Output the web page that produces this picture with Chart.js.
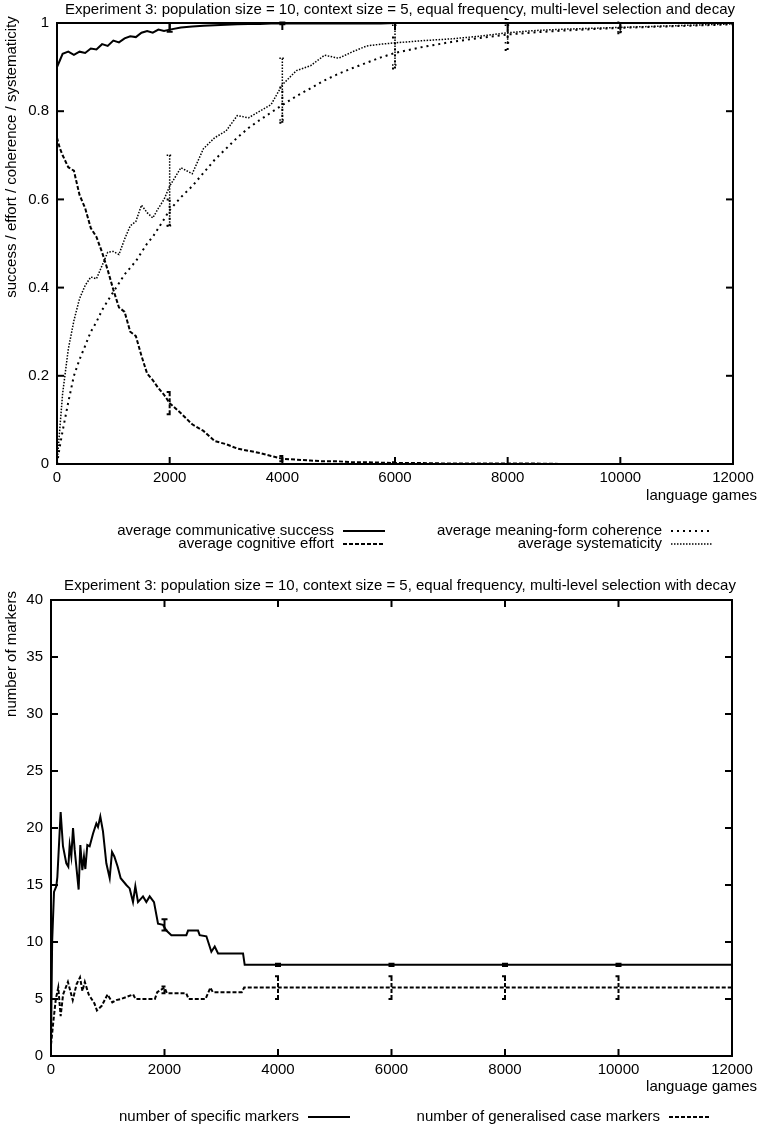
<!DOCTYPE html>
<html>
<head>
<meta charset="utf-8">
<script src="https://cdn.jsdelivr.net/npm/chart.js@4/dist/chart.umd.min.js"></script>
<style>
  body { margin: 0; background: #fff; }
  #wrap { position: relative; width: 760px; height: 1131px; }
  canvas { position: absolute; left: 0; }
</style>
</head>
<body>
<div id="wrap">
  <canvas id="chartTop" width="760" height="565" style="top:0"></canvas>
  <canvas id="chartBottom" width="760" height="566" style="top:565px"></canvas>
</div>
<script>
// ---- top chart: success / effort / coherence / systematicity ----
const topGames = [0, 50, 100, 200, 300, 400, 500, 600, 700, 800, 900, 1000, 1100, 1200, 1300, 1400, 1500, 1600, 1700, 1800, 1900, 2000,
  2200, 2400, 2600, 2800, 3000, 3200, 3400, 3600, 3800, 4000, 4250, 4500, 4750, 5000, 5250, 5500, 5750, 6000,
  6500, 7000, 7500, 8000, 8500, 9000, 9500, 10000, 10500, 11000, 11500, 12000];
const success = [0.90, 0.915, 0.93, 0.935, 0.928, 0.935, 0.932, 0.942, 0.94, 0.952, 0.948, 0.96, 0.956, 0.965, 0.97, 0.968, 0.978, 0.982, 0.978, 0.985, 0.982, 0.985,
  0.99, 0.992, 0.994, 0.995, 0.996, 0.997, 0.998, 0.998, 0.999, 0.999, 0.999, 0.999, 0.999, 0.999, 0.999, 0.999, 0.999, 1,
  1, 1, 1, 1, 1, 1, 1, 1, 1, 1, 1, 1];
const effort = [0.74, 0.716, 0.70, 0.673, 0.665, 0.61, 0.58, 0.535, 0.515, 0.48, 0.44, 0.395, 0.355, 0.345, 0.30, 0.29, 0.245, 0.205, 0.19, 0.172, 0.157, 0.138,
  0.115, 0.09, 0.075, 0.052, 0.045, 0.035, 0.03, 0.025, 0.018, 0.012, 0.01, 0.008, 0.006, 0.006, 0.004, 0.004, 0.003, 0.002,
  0.002, 0.001, 0.001, 0.001, 0.001, 0, 0, 0, 0, 0, 0, 0];
const coherence = [0, 0.04, 0.075, 0.14, 0.2, 0.237, 0.268, 0.30, 0.322, 0.349, 0.37, 0.39, 0.41, 0.43, 0.445, 0.46, 0.48, 0.50, 0.515, 0.535, 0.555, 0.576,
  0.605, 0.63, 0.66, 0.69, 0.715, 0.74, 0.762, 0.78, 0.797, 0.814, 0.834, 0.852, 0.87, 0.885, 0.898, 0.91, 0.922, 0.932,
  0.946, 0.957, 0.966, 0.974, 0.979, 0.983, 0.986, 0.989, 0.991, 0.993, 0.995, 0.997];
const systematicity = [0, 0.08, 0.16, 0.26, 0.325, 0.375, 0.405, 0.424, 0.42, 0.45, 0.48, 0.482, 0.475, 0.51, 0.54, 0.55, 0.587, 0.57, 0.558, 0.58, 0.60, 0.63,
  0.672, 0.658, 0.715, 0.74, 0.755, 0.79, 0.785, 0.80, 0.815, 0.86, 0.892, 0.903, 0.927, 0.92, 0.935, 0.948, 0.952, 0.955,
  0.96, 0.964, 0.97, 0.978, 0.983, 0.986, 0.988, 0.99, 0.992, 0.994, 0.996, 0.998];

// error bars (centre and half-length) at these games
const errGames = [2000, 4000, 6000, 8000, 10000];
const successMid = [0.99, 0.999, 1, 1, 1];
const successErr = [0.01, 0.002, 0, 0, 0];
const effortMid = [0.138, 0.012, 0.002, 0, 0];
const effortErr = [0.025, 0.006, 0.002, 0, 0];
const coherenceMid = [0.57, 0.814, 0.932, 0.974, 0.989];
const coherenceErr = [0.03, 0.04, 0.035, 0.035, 0.012];
const systematicityMid = [0.62, 0.85, 0.95, 0.975, 0.99];
const systematicityErr = [0.08, 0.07, 0.045, 0.02, 0.01];

// ---- bottom chart: number of markers ----
const specGames = [0, 20, 53, 94, 112, 170, 211, 270, 305, 329, 358, 388, 417, 487, 517, 552, 581, 605, 640, 681, 740, 799, 828, 869, 916, 975,
  1034, 1075, 1116, 1175, 1228, 1327, 1386, 1445, 1486, 1533, 1621, 1680, 1739, 1815, 1886, 1974, 2033, 2121, 2385, 2415,
  2591, 2620, 2738, 2826, 2885, 2944, 3384, 3413, 12000];
const specMarkers = [1, 10, 14.4, 14.9, 15.7, 21.4, 18.4, 16.9, 16.6, 18.5, 17.5, 20.0, 18.1, 14.6, 18.5, 16.3, 17.5, 16.4, 18.5, 18.4, 19.5, 20.4, 20.1, 21.0, 19.7, 16.9,
  15.6, 17.9, 17.5, 16.6, 15.6, 15.0, 14.7, 13.5, 14.9, 13.5, 14.0, 13.5, 14.0, 13.5, 11.6, 11.5, 11.0, 10.6, 10.6, 11.0,
  11.0, 10.6, 10.5, 9.15, 9.6, 9.0, 9.0, 8.0, 8.0];
const genGames = [0, 43, 85, 128, 170, 213, 298, 383, 451, 511, 553, 596, 664, 766, 809, 894, 996, 1081, 1149, 1234, 1447, 1489,
  1830, 1872, 2000, 2043, 2383, 2426, 2723, 2809, 2851, 3362, 3404, 12000];
const genMarkers = [1.0, 3.1, 5.0, 6.0, 3.5, 5.4, 6.5, 4.9, 6.3, 6.9, 5.7, 6.5, 5.4, 4.6, 4.0, 4.4, 5.4, 4.7, 4.9, 5.0, 5.4, 5.0,
  5.0, 5.6, 6.0, 5.5, 5.5, 5.0, 5.0, 6.0, 5.6, 5.6, 6.0, 6.0];
const specMid = [11.5, 8, 8, 8, 8];
const specErr = [0.5, 0.1, 0.1, 0.1, 0.1];
const genMid = [5.8, 6, 6, 6, 6];
const genErr = [0.3, 1, 1, 1, 1];

const FONT = '"Liberation Sans", Arial, Helvetica, sans-serif';
Chart.defaults.font.family = FONT;
Chart.defaults.font.size = 15;
Chart.defaults.color = '#000';

function pts(xs, ys) {
  return xs.map((g, i) => ({ x: g, y: ys[i] }));
}

function line(ctx, x1, y1, x2, y2) {
  ctx.beginPath(); ctx.moveTo(x1, y1); ctx.lineTo(x2, y2); ctx.stroke();
}

// gnuplot-like frame: border, inside ticks, error bars, titles, key
const gnuframe = {
  id: 'gnuframe',
  afterDatasetsDraw(chart, args, o) {
    const { ctx, chartArea: a, scales: { x, y } } = chart;
    ctx.save();
    ctx.strokeStyle = '#000';
    ctx.lineCap = 'butt';

    // error bars
    chart.data.datasets.forEach(ds => {
      if (!ds.errMid) return;
      ctx.lineWidth = ds.borderWidth;
      ctx.setLineDash(ds.borderDash || []);
      ds.errMid.forEach((m, k) => {
        const e = ds.err[k];
        if (!e) return;
        const px = x.getPixelForValue(errGames[k]);
        const lo = y.getPixelForValue(m - e), hi = y.getPixelForValue(m + e);
        ctx.beginPath();
        ctx.moveTo(px, lo); ctx.lineTo(px, hi);
        ctx.moveTo(px - 3, lo); ctx.lineTo(px + 3, lo);
        ctx.moveTo(px - 3, hi); ctx.lineTo(px + 3, hi);
        ctx.stroke();
      });
    });

    // border + mirrored ticks
    ctx.setLineDash([]);
    ctx.lineWidth = 2;
    x.ticks.forEach(t => {
      const px = x.getPixelForValue(t.value);
      line(ctx, px, a.bottom, px, a.bottom - 7);
      line(ctx, px, a.top, px, a.top + 7);
    });
    y.ticks.forEach(t => {
      const py = y.getPixelForValue(t.value);
      line(ctx, a.left, py, a.left + 7, py);
      line(ctx, a.right, py, a.right - 7, py);
    });
    ctx.strokeRect(a.left, a.top, a.right - a.left, a.bottom - a.top);

    // title and axis titles
    ctx.fillStyle = '#000';
    ctx.font = '15px ' + FONT;
    ctx.textBaseline = 'middle';
    ctx.textAlign = 'center';
    ctx.fillText(o.title, 400, o.titleY);
    ctx.textAlign = 'right';
    ctx.fillText('language games', 757, o.xTitleY);
    ctx.save();
    ctx.translate(12, o.yTitleY);
    ctx.rotate(-Math.PI / 2);
    ctx.textAlign = 'center';
    ctx.fillText(o.yTitle, 0, 0);
    ctx.restore();

    // key: text right-aligned, sample to its right
    o.key.forEach(k => {
      const ds = chart.data.datasets[k.ds];
      ctx.textAlign = 'right';
      ctx.fillText(ds.label, k.x, k.y);
      ctx.lineWidth = ds.borderWidth;
      ctx.setLineDash(ds.borderDash || []);
      line(ctx, k.x + 9, k.y, k.x + 51, k.y);
      ctx.setLineDash([]);
    });
    ctx.restore();
  }
};

function makeChart(id, datasets, cfg) {
  return new Chart(document.getElementById(id), {
    type: 'line',
    data: { datasets },
    plugins: [gnuframe],
    options: {
      responsive: false,
      animation: false,
      elements: { point: { radius: 0 }, line: { tension: 0, borderColor: '#000' } },
      layout: { padding: { left: 0, right: cfg.padRight, top: cfg.padTop, bottom: cfg.padBottom } },
      plugins: {
        legend: { display: false },
        tooltip: { enabled: false },
        title: { display: false },
        gnuframe: cfg.frame
      },
      scales: {
        x: {
          type: 'linear',
          min: 0, max: 12000,
          grid: { display: false, drawTicks: false },
          border: { display: false },
          ticks: { stepSize: 2000, autoSkip: false, maxRotation: 0, padding: 5, callback: v => String(v) },
          afterFit: s => { s.height = 30; }
        },
        y: {
          min: cfg.yMin, max: cfg.yMax,
          grid: { display: false, drawTicks: false },
          border: { display: false },
          ticks: { stepSize: cfg.yStep, padding: 8, callback: v => String(Math.round(v * 10) / 10) },
          afterFit: s => { s.width = cfg.yWidth; }
        }
      }
    }
  });
}

makeChart('chartTop', [
  { label: 'average communicative success', data: pts(topGames, success), borderWidth: 2, borderDash: [],
    errMid: successMid, err: successErr },
  { label: 'average cognitive effort', data: pts(topGames, effort), borderWidth: 2, borderDash: [4, 2],
    errMid: effortMid, err: effortErr },
  { label: 'average meaning-form coherence', data: pts(topGames, coherence), borderWidth: 2, borderDash: [2, 4],
    errMid: coherenceMid, err: coherenceErr },
  { label: 'average systematicity', data: pts(topGames, systematicity), borderWidth: 1.5, borderDash: [1.5, 1.5],
    errMid: systematicityMid, err: systematicityErr }
], {
  padTop: 23, padRight: 27, padBottom: 71,
  yMin: 0, yMax: 1, yStep: 0.2, yWidth: 57,
  frame: {
    title: 'Experiment 3: population size = 10, context size = 5, equal frequency, multi-level selection and decay',
    titleY: 10, xTitleY: 496, yTitleY: 157,
    yTitle: 'success / effort / coherence / systematicity',
    key: [
      { ds: 0, x: 334, y: 531 }, { ds: 1, x: 334, y: 544 },
      { ds: 2, x: 662, y: 531 }, { ds: 3, x: 662, y: 544 }
    ]
  }
});

makeChart('chartBottom', [
  { label: 'number of specific markers', data: pts(specGames, specMarkers), borderWidth: 2, borderDash: [],
    errMid: specMid, err: specErr },
  { label: 'number of generalised case markers', data: pts(genGames, genMarkers), borderWidth: 2, borderDash: [4, 2],
    errMid: genMid, err: genErr }
], {
  padTop: 35, padRight: 28, padBottom: 45,
  yMin: 0, yMax: 40, yStep: 5, yWidth: 51,
  frame: {
    title: 'Experiment 3: population size = 10, context size = 5, equal frequency, multi-level selection with decay',
    titleY: 21, xTitleY: 522, yTitleY: 89,
    yTitle: 'number of markers',
    key: [
      { ds: 0, x: 299, y: 552 }, { ds: 1, x: 660, y: 552 }
    ]
  }
});
</script>
</body>
</html>
